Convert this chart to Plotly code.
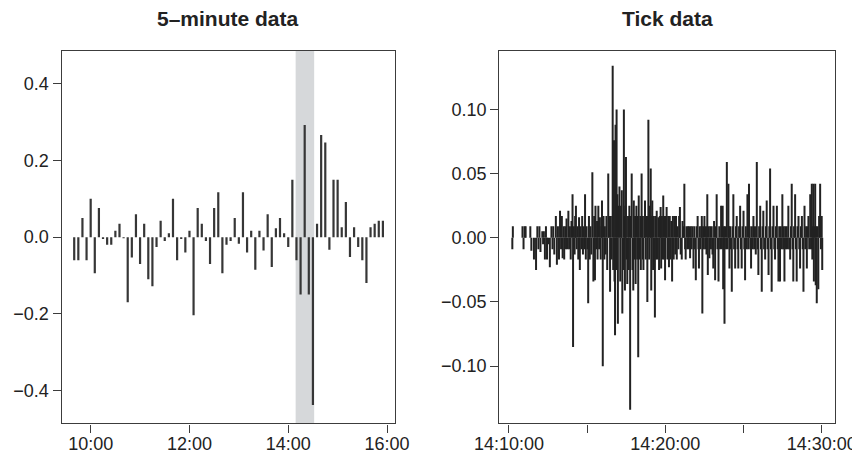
import plotly.graph_objects as go
import pandas as pd

DAY = "2008-01-02"

# ---------------- 5-minute returns (9:40 .. 15:55) ----------------
five_min_times = pd.date_range(f"{DAY} 09:40", f"{DAY} 15:55", freq="5min")
five_min_returns = [
    -0.060, -0.060, 0.050, -0.060, 0.100, -0.094, 0.076, -0.005, -0.020, -0.020,
    0.017, 0.035, -0.003, -0.170, -0.053, 0.060, -0.070, 0.035, -0.110, -0.128,
    -0.026, 0.043, -0.010, 0.010, 0.100, -0.060, -0.005, -0.040, 0.017, -0.204,
    0.076, 0.035, -0.010, -0.070, 0.076, 0.117, -0.094, -0.020, -0.010, 0.050,
    -0.017, 0.117, -0.040, 0.017, -0.085, 0.017, -0.035, 0.060, -0.078, 0.023,
    0.050, 0.010, -0.026, 0.150, -0.060, -0.150, 0.293, -0.150, -0.438, 0.035,
    0.267, 0.247, -0.033, 0.150, 0.150, 0.026, 0.092, -0.052, 0.026, -0.026,
    -0.060, -0.120, 0.026, 0.035, 0.043, 0.043,
]
shade_start = f"{DAY} 14:09:00"
shade_end = f"{DAY} 14:31:30"

left_xticks = ["10:00", "12:00", "14:00", "16:00"]
left_yticks = [-0.4, -0.2, 0.0, 0.2, 0.4]
left_yticktext = ["\u22120.4", "\u22120.2", "0.0", "0.2", "0.4"]

# ---------------- Tick returns (seconds after 14:10:00) ----------------
tick_seconds = [
    13, 15, 52, 56, 60, 64, 82, 86, 96, 104, 109, 113, 117, 121, 128, 131, 134, 138, 142, 146,
    150, 157, 163, 167, 170, 174, 180, 184, 188, 192, 196, 200, 203, 206,
    210, 212, 216, 219, 221, 225, 228, 231, 234, 237, 240, 244, 246, 249, 252, 254,
    257, 260, 263, 266, 269, 272, 275, 278, 281, 284, 287, 290, 292, 295, 298, 301,
    304, 307, 310, 313, 316, 320, 324, 327, 330, 332, 335, 338, 340, 343, 346, 349,
    352, 355, 357, 360, 363, 366, 368, 371, 374, 377, 381, 385, 388, 391, 394, 398,
    400, 403, 405, 407, 409, 411, 413, 416, 418, 421, 424, 427, 430, 433, 435, 438,
    441, 443, 445, 447, 449, 451, 454, 457, 460, 462, 465, 468, 471, 474, 477, 479,
    482, 484, 486, 489, 492, 494, 496, 498, 501, 504, 506, 509, 512, 514, 516, 519,
    522, 525, 528, 531, 533, 535, 538, 541, 544, 546, 548, 550, 553, 556, 558, 560,
    563, 565, 567, 570, 573, 576, 579, 582, 584, 587, 589, 592, 595, 597, 599, 602,
    605, 608, 611, 614, 617, 620, 623, 626, 629, 632, 635, 638, 641, 644, 647, 650,
    653, 656, 659, 663, 666, 669, 673, 676, 678, 681, 684, 687, 690, 692, 695, 698,
    701, 704, 708, 711, 714, 717, 720, 724, 727, 729, 732, 735, 738, 740, 742, 745,
    747, 750, 753, 756, 758, 761, 763, 766, 769, 772, 775, 778, 781, 784, 787, 791,
    794, 797, 800, 804, 807, 810, 814, 817, 820, 822, 825, 827, 830, 833, 836, 839,
    842, 844, 846, 849, 852, 855, 858, 861, 864, 868, 871, 874, 877, 880, 883, 887,
    890, 893, 896, 900, 903, 906, 909, 912, 915, 918, 921, 924, 926, 929, 932, 935,
    938, 941, 944, 947, 951, 954, 957, 960, 964, 967, 970, 973, 976, 979, 983, 986,
    989, 992, 996, 999, 1002, 1005, 1008, 1011, 1015, 1018, 1021, 1024, 1028, 1031, 1034, 1037,
    1040, 1043, 1046, 1049, 1052, 1054, 1057, 1060, 1063, 1066, 1069, 1072, 1075, 1079, 1082, 1085,
    1088, 1091, 1094, 1098, 1101, 1104, 1107, 1111, 1114, 1117, 1120, 1124, 1127, 1130, 1134, 1137,
    1140, 1143, 1146, 1149, 1152, 1156, 1159, 1162, 1164, 1166, 1168, 1170, 1172, 1175, 1177, 1179,
    1181, 1184, 1187, 1190, 1194, 1197, 1200, 1202,
]
tick_returns = [
    -0.009, 0.009, 0.009, -0.009, 0.009, 0.009, 0.009, -0.010, -0.017, -0.025, 0.009, -0.009, 0.009, -0.011, 0.005, -0.005, 0.005, -0.017, 0.009, -0.017,
    -0.005, -0.023, 0.009, -0.009, 0.009, -0.013, 0.017, -0.021, 0.009, -0.017, 0.021, -0.009, 0.017, -0.016,
    0.009, -0.017, 0.009, -0.009, 0.015, -0.009, 0.021, -0.009, 0.009, -0.017, 0.013, 0.034, -0.085, 0.009, -0.013, 0.017,
    0.025, -0.009, 0.009, -0.017, 0.016, -0.025, 0.009, -0.009, 0.017, -0.013, 0.009, -0.009, 0.034, -0.017, 0.009, -0.009,
    -0.051, 0.017, -0.017, 0.009, -0.013, 0.051, -0.034, 0.017, -0.033, 0.025, -0.009, 0.013, -0.017, 0.025, -0.009, 0.016,
    -0.017, 0.009, 0.029, -0.100, 0.017, -0.017, 0.009, -0.013, 0.017, -0.025, 0.050, 0.017, -0.042, 0.017, -0.017, 0.134,
    -0.025, 0.076, -0.034, -0.076, 0.088, -0.025, 0.100, 0.034, -0.067, 0.025, 0.040, -0.034, 0.025, 0.037, -0.059, -0.025,
    0.100, 0.017, -0.041, 0.025, 0.063, -0.017, -0.036, 0.017, -0.025, 0.025, -0.134, 0.017, 0.050, -0.025, -0.041, 0.029,
    -0.017, 0.017, -0.036, 0.025, -0.017, 0.017, -0.093, 0.033, -0.017, 0.017, -0.025, 0.050, 0.017, -0.017, -0.025, 0.017,
    0.029, -0.017, 0.017, -0.050, 0.017, 0.092, -0.017, 0.025, 0.054, -0.041, 0.017, 0.029, -0.025, 0.017, -0.017, -0.062,
    0.017, -0.017, 0.021, -0.017, 0.016, -0.025, 0.017, 0.024, -0.024, 0.017, -0.017, 0.033, -0.017, 0.017, -0.033, 0.017,
    0.024, -0.017, 0.017, -0.023, 0.017, -0.017, 0.013, -0.034, 0.017, -0.017, 0.017, -0.013, 0.017, -0.017, 0.009, -0.009,
    0.017, 0.024, -0.013, -0.017, 0.013, 0.009, 0.042, -0.009, -0.017, 0.009, -0.009, 0.009, -0.009, 0.009, -0.016, 0.009,
    -0.009, 0.009, -0.024, 0.009, -0.009, -0.033, 0.009, 0.017, -0.009, -0.024, 0.009, -0.009, 0.009, 0.017, -0.059, 0.009,
    -0.009, 0.017, -0.009, 0.009, -0.013, 0.034, -0.029, 0.009, -0.016, 0.009, -0.009, 0.009, -0.013, -0.024, 0.013, -0.033,
    0.009, 0.034, -0.009, -0.034, 0.009, -0.009, 0.025, -0.009, 0.025, -0.040, 0.009, -0.067, 0.009, -0.009, 0.059, -0.009,
    0.042, 0.009, -0.024, 0.009, -0.009, -0.042, 0.009, 0.034, -0.009, -0.024, 0.009, 0.017, -0.009, -0.024, 0.009, 0.025,
    -0.009, -0.024, 0.009, 0.021, -0.009, -0.033, 0.009, -0.009, 0.034, -0.009, 0.042, 0.009, -0.009, -0.024, 0.009, -0.009,
    0.017, -0.009, 0.009, -0.013, 0.059, -0.009, -0.029, 0.009, 0.025, -0.009, -0.042, 0.009, 0.021, -0.009, -0.017, 0.009,
    0.029, -0.009, -0.029, 0.009, 0.054, -0.009, -0.042, 0.009, 0.025, -0.009, -0.017, 0.009, 0.025, -0.009, -0.034, 0.009,
    -0.034, 0.009, -0.009, 0.034, -0.009, 0.009, -0.034, 0.009, -0.009, 0.009, -0.009, 0.025, -0.009, -0.017, 0.009, 0.042,
    -0.009, -0.034, 0.009, 0.034, -0.009, -0.034, 0.009, 0.017, -0.009, -0.024, 0.009, 0.017, -0.009, -0.042, 0.025, -0.009,
    0.009, -0.024, 0.009, 0.017, -0.009, 0.034, -0.009, 0.042, -0.017, 0.009, 0.042, -0.034, 0.009, 0.042, -0.037, 0.009,
    -0.051, 0.009, -0.040, 0.017, 0.042, -0.009, 0.017, -0.025,
]
assert len(tick_seconds) == len(tick_returns)

right_xtick_times = ["14:10:00", "14:15:00", "14:20:00", "14:25:00", "14:30:00"]
right_xtick_text = ["14:10:00", "", "14:20:00", "", "14:30:00"]
right_yticks = [-0.10, -0.05, 0.0, 0.05, 0.10]
right_yticktext = ["\u22120.10", "\u22120.05", "0.00", "0.05", "0.10"]

# ---------------- build vertical-line (type "h") traces ----------------
def spikes(xvals, yvals):
    xs, ys = [], []
    for x, y in zip(xvals, yvals):
        xs += [x, x, None]
        ys += [0, y, None]
    return xs, ys

lx, ly = spikes(list(five_min_times), five_min_returns)
base = pd.Timestamp(f"{DAY} 14:10:00")
tick_times = [base + pd.Timedelta(seconds=s) for s in tick_seconds]
rx, ry = spikes(tick_times, tick_returns)

fig = go.Figure()
fig.add_trace(go.Scatter(x=lx, y=ly, mode="lines", line=dict(color="#363636", width=2.2),
                         xaxis="x", yaxis="y", showlegend=False, hoverinfo="skip"))
fig.add_trace(go.Scatter(x=rx, y=ry, mode="lines", line=dict(color="#222222", width=2.0),
                         xaxis="x2", yaxis="y2", showlegend=False, hoverinfo="skip"))

# the page body adds an 8px margin around the plot div; place everything 8px up/left
W, H, OFF = 860, 459, 8

def px(x):
    return (x - OFF) / W

def py(y):
    return 1 - (y - OFF) / H

FONT = "Liberation Sans, Arial, Helvetica, sans-serif"
axis_common = dict(showline=True, mirror=True, linecolor="#3c3c3c", linewidth=1.4,
                   ticks="outside", ticklen=8, tickwidth=1.3, tickcolor="#3c3c3c",
                   showgrid=False, zeroline=False, automargin=False,
                   tickfont=dict(family=FONT, size=18, color="#222222"))

y_dom = [py(423.3), py(51)]
fig.update_layout(
    width=W, height=H,
    margin=dict(l=0, r=0, t=0, b=0, autoexpand=False),
    paper_bgcolor="white", plot_bgcolor="white",
    xaxis=dict(domain=[px(61.7), px(395)], type="date",
               range=[f"{DAY} 09:24:48", f"{DAY} 16:09:42"],
               tickvals=[f"{DAY} {t}" for t in left_xticks], ticktext=left_xticks,
               anchor="y", ticklabelstandoff=-4, **axis_common),
    yaxis=dict(domain=y_dom, range=[-0.486, 0.486], tickvals=left_yticks,
               ticktext=left_yticktext, anchor="x", **axis_common),
    xaxis2=dict(domain=[px(499.3), px(835)], type="date",
                range=[f"{DAY} 14:09:23", f"{DAY} 14:30:51"],
                tickvals=[f"{DAY} {t}" for t in right_xtick_times], ticktext=right_xtick_text,
                anchor="y2", ticklabelstandoff=-4, **axis_common),
    yaxis2=dict(domain=y_dom, range=[-0.1445, 0.1455], tickvals=right_yticks,
                ticktext=right_yticktext, anchor="x2", **axis_common),
    shapes=[dict(type="rect", xref="x", yref="y domain", x0=shade_start, x1=shade_end,
                 y0=0, y1=1, fillcolor="#d6d8da", line=dict(width=0), layer="below")],
    annotations=[
        dict(text="<b>5\u2013minute data</b>", x=px((61.7 + 395) / 2), y=py(19),
             xref="paper", yref="paper", showarrow=False, xanchor="center", yanchor="middle",
             font=dict(family=FONT, size=21, color="#222222")),
        dict(text="<b>Tick data</b>", x=px((499.3 + 835) / 2), y=py(19),
             xref="paper", yref="paper", showarrow=False, xanchor="center", yanchor="middle",
             font=dict(family=FONT, size=21, color="#222222")),
    ],
)

fig.write_html("out.html")
